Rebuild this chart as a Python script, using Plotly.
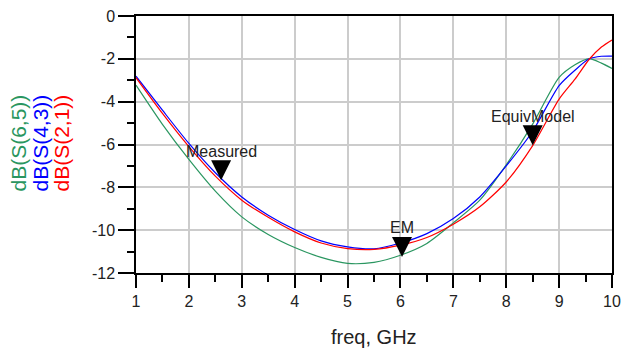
import plotly.graph_objects as go

# ---- data ----
freq = [1.0, 1.5, 2.0, 2.5, 3.0, 3.5, 4.0, 4.5, 5.0, 5.5, 6.0, 6.5, 7.0, 7.5, 8.0, 8.5, 9.0, 9.3, 9.57, 9.8, 10.0]
s65 = [-3.23, -5.06, -6.70, -8.18, -9.38, -10.20, -10.81, -11.27, -11.55, -11.50, -11.17, -10.62, -9.66, -8.60, -6.95, -5.05, -2.87, -2.28, -1.99, -2.20, -2.45]
s43 = [-2.81, -4.40, -5.95, -7.32, -8.45, -9.30, -9.97, -10.50, -10.78, -10.87, -10.60, -10.16, -9.46, -8.45, -7.00, -5.38, -3.25, -2.53, -2.00, -1.88, -1.87]
s21 = [-2.88, -4.55, -6.10, -7.48, -8.60, -9.40, -10.08, -10.60, -10.86, -10.90, -10.70, -10.34, -9.72, -8.91, -7.75, -6.05, -3.88, -2.95, -2.02, -1.45, -1.12]

marker_names = ["Measured", "EM", "EquivModel"]
marker_x = [2.61, 6.03, 8.50]
marker_y = [-7.67, -11.25, -6.03]

x_ticks = [1, 2, 3, 4, 5, 6, 7, 8, 9, 10]
x_ticktext = ["1", "2", "3", "4", "5", "6", "7", "8", "9", "10"]
y_ticks = [0, -2, -4, -6, -8, -10, -12]
y_ticktext = ["0", "-2", "-4", "-6", "-8", "-10", "-12"]

series = [
    ("dB(S(6,5))", s65, "#2A9660"),
    ("dB(S(4,3))", s43, "#0000FF"),
    ("dB(S(2,1))", s21, "#FF0000"),
]

FONT = "Liberation Sans, Arial, sans-serif"

fig = go.Figure()
for name, vals, col in series:
    fig.add_trace(go.Scatter(x=freq, y=vals, mode="lines", name=name,
                             line=dict(color=col, width=1.2, shape="spline", smoothing=0.7),
                             showlegend=False))

fig.add_trace(go.Scatter(x=marker_x, y=marker_y, mode="markers",
                         marker=dict(symbol="arrow-down", size=20, color="black",
                                     line=dict(width=0)),
                         showlegend=False))

annotations = []
for n, mx, my in zip(marker_names, marker_x, marker_y):
    annotations.append(dict(x=mx, y=my, xref="x", yref="y", text=n, showarrow=False,
                            yshift=29, xanchor="center", yanchor="middle",
                            font=dict(family=FONT, size=16, color="#222222")))

# y-axis title: three coloured rotated lines
shifts = [-118, -96, -75]
for (name, vals, col), sh in zip(series, shifts):
    annotations.append(dict(x=0, y=0.5, xref="paper", yref="paper", text=name,
                            showarrow=False, textangle=-90, xshift=sh, yshift=1,
                            xanchor="center", yanchor="middle",
                            font=dict(family=FONT, size=21, color=col)))

# x-axis title
annotations.append(dict(x=0.5, y=0, xref="paper", yref="paper", text="freq, GHz",
                        showarrow=False, yshift=-64, xanchor="center", yanchor="middle",
                        font=dict(family=FONT, size=20, color="#222222")))

axis_common = dict(showgrid=True, gridcolor="#CCCCCC", gridwidth=1.5,
                   showline=True, linecolor="black", linewidth=1.5, mirror=True,
                   ticks="outside", tickcolor="black", tickwidth=1.5,
                   zeroline=False, tickfont=dict(family=FONT, size=16, color="#222222"))

fig.update_xaxes(range=[1, 10], tickmode="array", tickvals=x_ticks, ticktext=x_ticktext,
                 ticklen=13,
                 minor=dict(dtick=0.5, tick0=1, ticks="outside", ticklen=7,
                            tickcolor="black", tickwidth=1.5, showgrid=False),
                 **axis_common)
fig.update_yaxes(range=[-12, 0], tickmode="array", tickvals=y_ticks, ticktext=y_ticktext,
                 ticklen=16,
                 minor=dict(dtick=1, tick0=0, ticks="outside", ticklen=7,
                            tickcolor="black", tickwidth=1.5, showgrid=False),
                 **axis_common)

fig.update_layout(width=626, height=349,
                  margin=dict(l=136, r=14, t=16, b=76, autoexpand=False),
                  plot_bgcolor="white", paper_bgcolor="white",
                  annotations=annotations, showlegend=False)

fig.write_html("out.html")
